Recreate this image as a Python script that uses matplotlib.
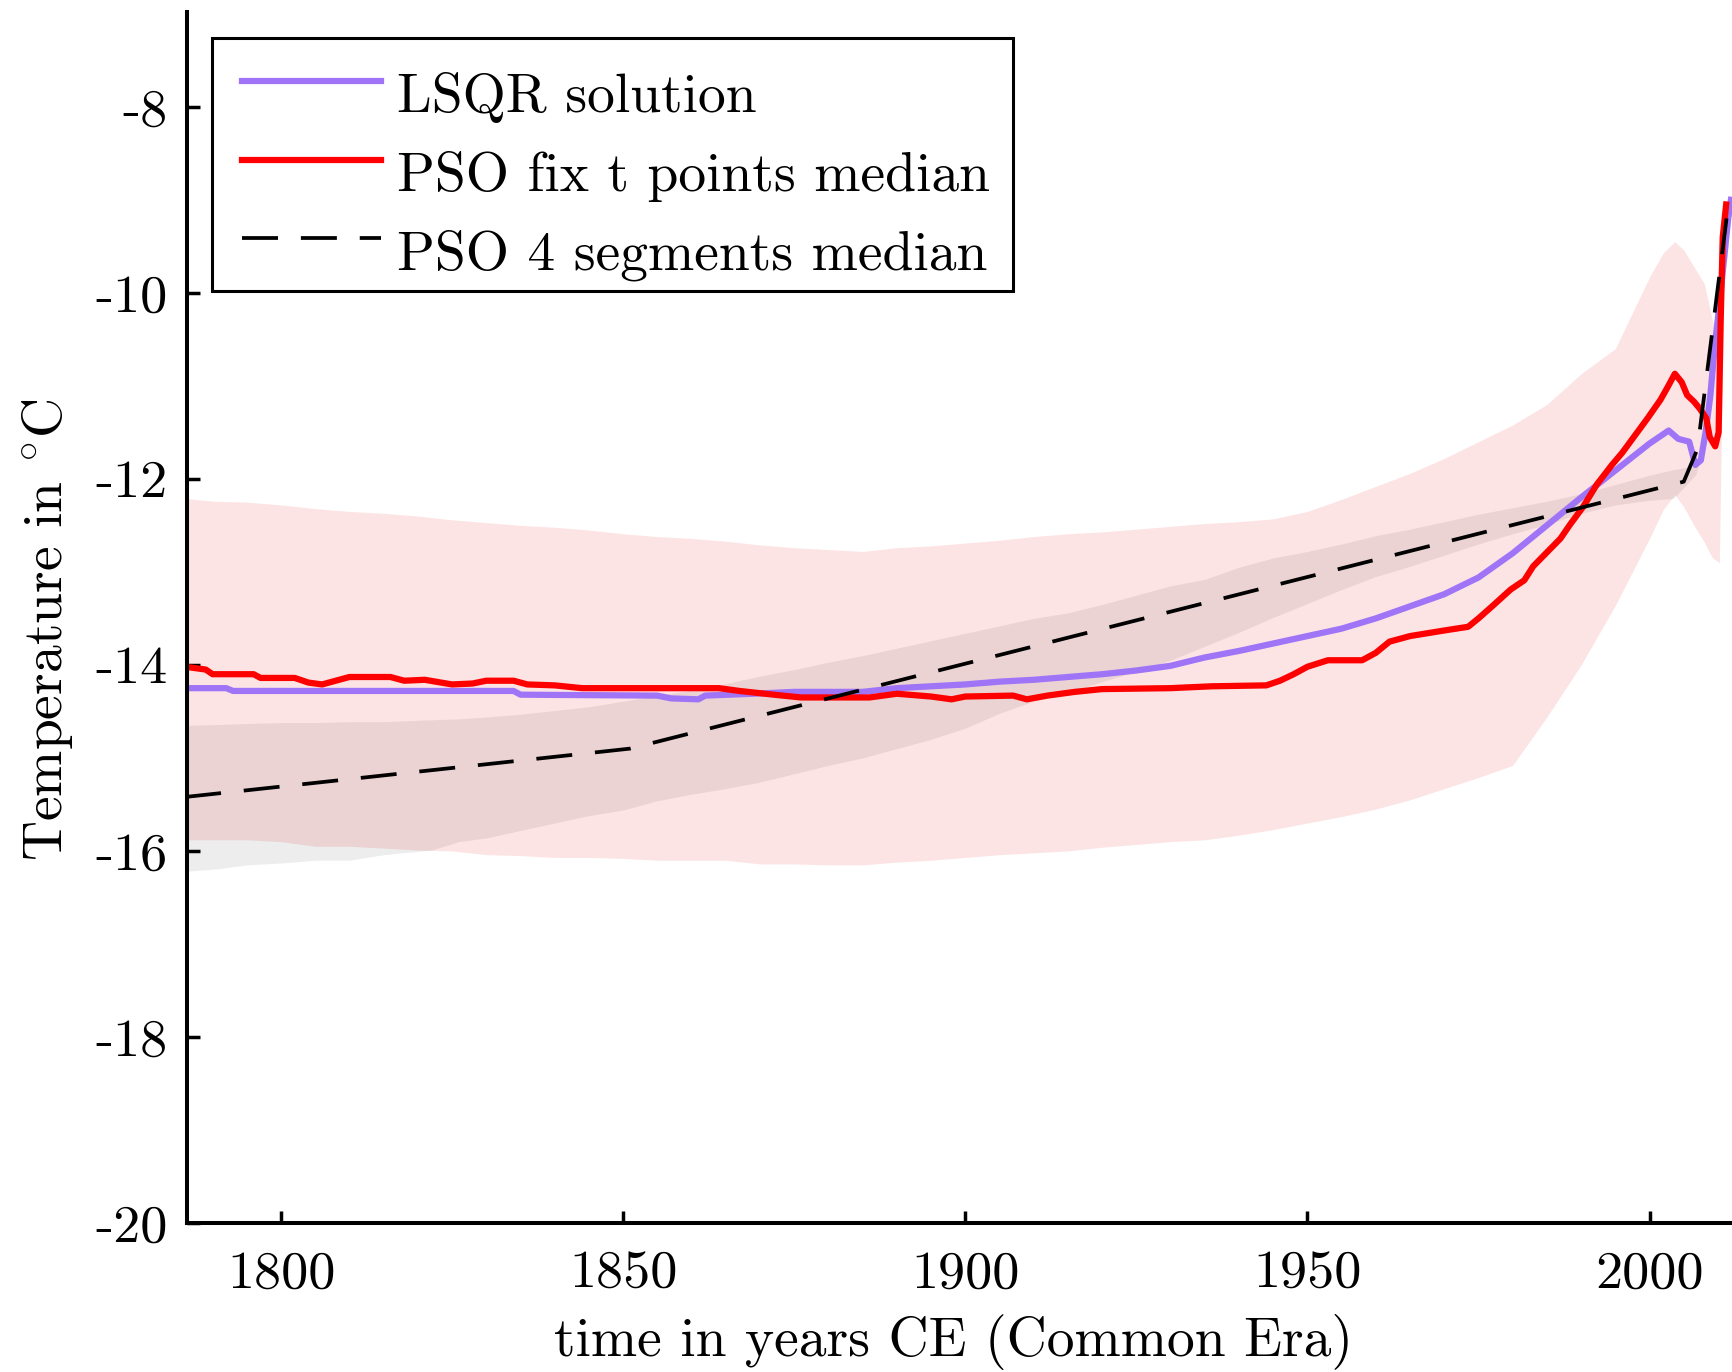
import matplotlib
matplotlib.use('Agg')
import matplotlib.pyplot as plt
import matplotlib.transforms as mtransforms
from matplotlib.legend_handler import HandlerLine2D

plt.rcParams['font.family'] = ['cmr10', 'DejaVu Serif']
plt.rcParams['mathtext.fontset'] = 'cm'
plt.rcParams['axes.unicode_minus'] = False
plt.rcParams['legend.fancybox'] = False

# --- data ---
# pink band (spread of the PSO fix t points runs)
pink_years = [1786, 1790, 1795, 1800, 1805, 1810, 1815, 1820, 1825, 1830, 1835, 1840, 1845,
              1850, 1855, 1860, 1865, 1870, 1875, 1880, 1885, 1890, 1895, 1900, 1905, 1910,
              1915, 1920, 1925, 1930, 1935, 1940, 1945, 1950, 1955, 1960, 1965, 1970, 1975,
              1980, 1985, 1990, 1995, 2000, 2002, 2003.7, 2005, 2006.5, 2008, 2009.2, 2010.2,
              2011, 2011.7]
pink_hi = [-12.21, -12.24, -12.25, -12.28, -12.32, -12.35, -12.37, -12.40, -12.44, -12.47,
           -12.50, -12.52, -12.55, -12.59, -12.62, -12.64, -12.67, -12.71, -12.74, -12.76,
           -12.78, -12.74, -12.72, -12.69, -12.66, -12.62, -12.59, -12.57, -12.54, -12.51,
           -12.48, -12.46, -12.43, -12.35, -12.22, -12.08, -11.94, -11.78, -11.60, -11.42,
           -11.20, -10.87, -10.60, -9.83, -9.57, -9.45, -9.54, -9.72, -9.90, -10.30, -10.50,
           -9.10, -9.00]
pink_lo = [-15.88, -15.88, -15.88, -15.90, -15.95, -15.95, -15.97, -15.99, -16.00, -16.04,
           -16.05, -16.07, -16.07, -16.08, -16.10, -16.10, -16.10, -16.14, -16.14, -16.15,
           -16.15, -16.12, -16.10, -16.07, -16.04, -16.02, -16.00, -15.96, -15.93, -15.90,
           -15.88, -15.83, -15.77, -15.70, -15.63, -15.55, -15.45, -15.33, -15.21, -15.08,
           -14.56, -14.00, -13.36, -12.64, -12.33, -12.17, -12.30, -12.50, -12.68, -12.85,
           -12.90, -9.30, -9.10]

# gray band (spread of the PSO 4 segments runs)
gray_years = [1786, 1791, 1795, 1800, 1805, 1810, 1815, 1822, 1826, 1830, 1835, 1840, 1845,
              1850, 1855, 1860, 1865, 1870, 1875, 1880, 1885, 1890, 1895, 1900, 1905, 1910,
              1915, 1920, 1925, 1930, 1935, 1940, 1945, 1950, 1955, 1960, 1965, 1970, 1975,
              1980, 1985, 1990, 1995, 2000, 2003.5, 2006.8, 2008, 2009, 2010, 2011.5]
gray_hi = [-14.65, -14.64, -14.63, -14.62, -14.62, -14.61, -14.61, -14.59, -14.58, -14.56,
           -14.53, -14.49, -14.45, -14.39, -14.33, -14.27, -14.20, -14.12, -14.05, -13.97,
           -13.90, -13.82, -13.74, -13.66, -13.58, -13.50, -13.44, -13.35, -13.25, -13.15,
           -13.08, -12.95, -12.85, -12.78, -12.70, -12.61, -12.54, -12.46, -12.38, -12.31,
           -12.24, -12.16, -12.06, -11.96, -11.90, -11.86, -11.30, -10.60, -10.10, -9.20]
gray_lo = [-16.22, -16.19, -16.15, -16.13, -16.10, -16.10, -16.04, -15.99, -15.90, -15.86,
           -15.78, -15.70, -15.62, -15.56, -15.46, -15.39, -15.33, -15.26, -15.17, -15.08,
           -15.00, -14.90, -14.80, -14.68, -14.52, -14.39, -14.30, -14.18, -14.07, -13.95,
           -13.80, -13.65, -13.49, -13.34, -13.19, -13.05, -12.94, -12.82, -12.70, -12.59,
           -12.49, -12.37, -12.28, -12.23, -12.21, -11.95, -11.60, -11.00, -10.50, -9.50]

# LSQR solution
lsqr_years = [1786, 1792, 1793, 1834, 1835, 1855, 1857, 1861, 1862, 1869, 1875, 1885, 1890,
              1895, 1900, 1905, 1910, 1915, 1920, 1925, 1930, 1935, 1940, 1945, 1950, 1955,
              1960, 1965, 1970, 1975, 1980, 1985, 1990, 1995, 2000, 2002.8, 2004.2, 2005.8,
              2006.7, 2007.5, 2008.2, 2008.9, 2009.5, 2010.1, 2010.8, 2011.5, 2011.9]
lsqr_temp = [-14.25, -14.25, -14.28, -14.28, -14.32, -14.33, -14.36, -14.37, -14.33, -14.31,
             -14.29, -14.29, -14.25, -14.23, -14.21, -14.18, -14.16, -14.13, -14.10, -14.06,
             -14.01, -13.92, -13.85, -13.77, -13.69, -13.61, -13.50, -13.37, -13.24, -13.06,
             -12.80, -12.50, -12.20, -11.91, -11.62, -11.48, -11.57, -11.60, -11.85, -11.80,
             -11.50, -11.10, -10.60, -10.20, -9.70, -9.20, -9.00]

# PSO fix t points median
fix_years = [1786, 1789, 1790, 1796, 1797, 1802, 1804, 1806, 1808, 1810, 1816, 1818, 1821,
             1825, 1828, 1830, 1834, 1836, 1840, 1844, 1858, 1864, 1867, 1872, 1876, 1886,
             1890, 1895, 1898, 1900, 1907, 1909, 1912, 1916, 1920, 1930, 1936, 1944, 1946,
             1948, 1950, 1953, 1958, 1960, 1962, 1965, 1970, 1973.5, 1975, 1977, 1979.7,
             1981.7, 1983, 1985.4, 1987, 1988.3, 1990.3, 1992.3, 1994.5, 1996, 1998, 1999.7,
             2001.6, 2002.6, 2003.7, 2004.7, 2005.5, 2006.5, 2007.4, 2008.3, 2008.8, 2009.6,
             2010.1, 2010.4, 2010.7, 2011.2]
fix_temp = [-14.02, -14.05, -14.10, -14.10, -14.14, -14.14, -14.19, -14.21, -14.17, -14.13,
            -14.13, -14.17, -14.16, -14.21, -14.20, -14.17, -14.17, -14.21, -14.22, -14.25,
            -14.25, -14.25, -14.28, -14.32, -14.35, -14.35, -14.31, -14.34, -14.37, -14.34,
            -14.33, -14.37, -14.33, -14.29, -14.26, -14.25, -14.23, -14.22, -14.17, -14.10,
            -14.02, -13.95, -13.95, -13.87, -13.75, -13.69, -13.63, -13.59, -13.50, -13.37,
            -13.19, -13.09, -12.94, -12.76, -12.64, -12.50, -12.30, -12.06, -11.85, -11.72,
            -11.52, -11.35, -11.15, -11.02, -10.87, -10.96, -11.10, -11.17, -11.25, -11.35,
            -11.55, -11.65, -11.50, -10.30, -9.40, -9.05]

# PSO 4 segments median
seg_years = [1786, 1851, 2005, 2007, 2011.6]
seg_temp = [-15.42, -14.90, -12.03, -11.68, -9.0]

yticks = [-20, -18, -16, -14, -12, -10, -8]
xticks = [1800, 1850, 1900, 1950, 2000]

purple = '#a074f6'

fig = plt.figure(figsize=(17.33, 13.72), dpi=100)
ax = fig.add_axes([0.1079, 0.1086, 0.8921, 0.8827])

ax.fill_between(pink_years, pink_lo, pink_hi, color='#fde4e4', lw=0)
ax.fill_between(gray_years, gray_lo, gray_hi, color='black', alpha=0.07, lw=0)

ax.plot(lsqr_years, lsqr_temp, color=purple, lw=4.5, label='LSQR solution')
ax.plot(fix_years, fix_temp, color='red', lw=4.5, label='PSO fix t points median')
ax.plot(seg_years, seg_temp, color='black', lw=2.7, dashes=(9.6, 6.1),
        label='PSO 4 segments median')

ax.set_xlim(1786.26, 2012.2)
ax.set_ylim(-20, -6.98)
ax.set_xticks(xticks)
ax.set_yticks(yticks)
ax.set_xticklabels([str(v) for v in xticks])
ax.set_yticklabels([str(v) for v in yticks])

for s in ['top', 'right']:
    ax.spines[s].set_visible(False)
for s in ['left', 'bottom']:
    ax.spines[s].set_linewidth(2.9)
ax.tick_params(axis='both', direction='in', length=9, width=2.5, labelsize=39)
ax.tick_params(axis='x', pad=20)
ax.tick_params(axis='y', pad=14)

ax.set_xlabel('time in years CE (Common Era)', fontsize=40)
ax.set_ylabel(r'Temperature in $^{\circ}$C', fontsize=40)
ax.xaxis.set_label_coords(0.4955, -0.075)
ax.yaxis.set_label_coords(-0.0725, 0.49)

leg = ax.legend(loc='upper left', bbox_to_anchor=(0.016, 0.9785), borderaxespad=0,
                fontsize=40, handlelength=2.64, handletextpad=0.3, borderpad=0.4,
                labelspacing=0.5, frameon=True,
                handler_map={matplotlib.lines.Line2D: HandlerLine2D(xpad=0.14)})
leg.get_frame().set_edgecolor('black')
leg.get_frame().set_linewidth(2.2)
leg.get_frame().set_alpha(1)
# labels sit a little lower than their sample lines in the original
for t in leg.get_texts():
    t.set_transform(t.get_transform() + mtransforms.Affine2D().translate(0, -12))

fig.savefig('out.png', dpi=100)
